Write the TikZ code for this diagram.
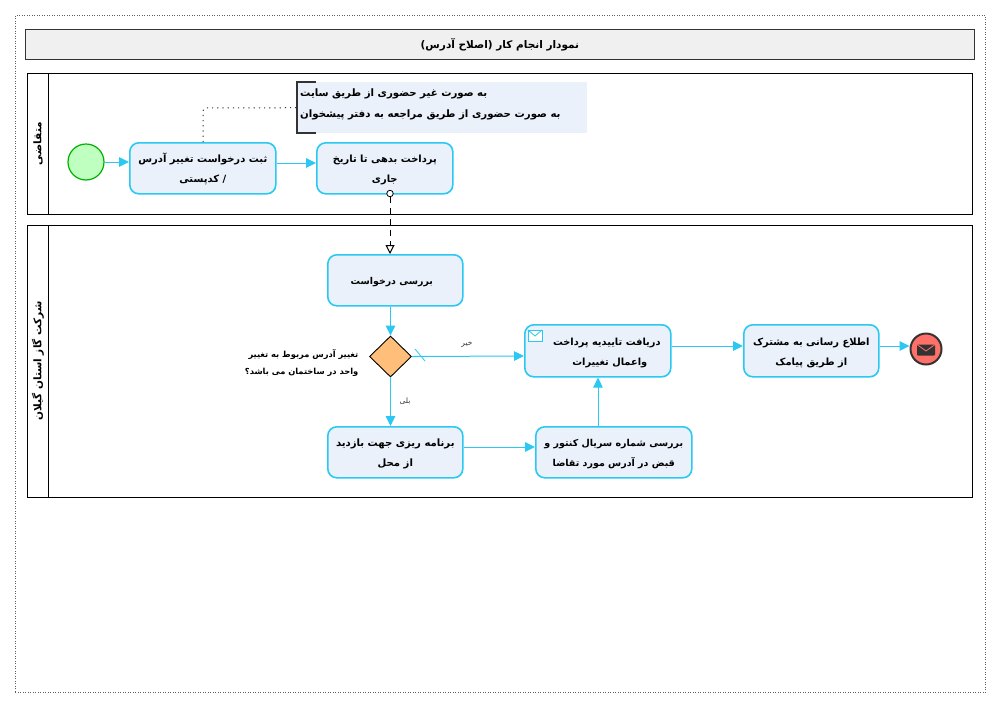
\documentclass[tikz,border=0pt]{standalone}
\usepackage{fontspec}
\usetikzlibrary{arrows.meta,shapes.geometric,calc}
\TeXXeTstate=1
\newfontfamily\arabicfont[Script=Arabic]{DejaVu Sans}
\newcommand{\rl}[1]{\beginR #1\endR}
\newcommand{\tl}{\rule{0pt}{11pt}}
\definecolor{flowc}{HTML}{2AC8F2}
\definecolor{taskfill}{HTML}{EAF1FA}
\definecolor{darkl}{HTML}{333333}
\definecolor{gwfill}{HTML}{FFBE7A}
\definecolor{endfill}{HTML}{FF7068}
\tikzset{
  x=1pt,y=-1pt,
  every node/.style={font=\arabicfont\bfseries\fontsize{9.9}{20}\selectfont,inner sep=0pt,text=black},
  taskbox/.style={draw=flowc,line width=1.6pt,fill=taskfill,rounded corners=9pt,align=center,anchor=north west},
  lane/.style={draw=black,line width=0.9pt,fill=white,anchor=north west},
  flow/.style={draw=flowc,line width=1pt,-{Triangle[length=10pt,width=9.5pt]}},
  lanelabel/.style={rotate=90,font=\arabicfont\bfseries\fontsize{10.5}{12}\selectfont},
  edgelabel/.style={font=\arabicfont\fontsize{7.5}{9}\selectfont,text=darkl},
}
\begin{document}
\begin{tikzpicture}
\useasboundingbox (0,0) rectangle (1000,707);
\fill[white] (0,0) rectangle (1000,707);
\node[draw=darkl!80!white,dotted,line width=0.5pt,minimum width=970pt,minimum height=677pt,anchor=north west] (page) at (15,15) {};
\node[draw=darkl,line width=0.8pt,fill=black!6,minimum width=949pt,minimum height=30pt,anchor=north west,font=\arabicfont\bfseries\fontsize{10.5}{12}\selectfont] (title) at (25,29) {\rl{نمودار انجام کار (اصلاح آدرس)}};
% lanes
\node[lane,minimum width=945pt,minimum height=141pt] (lane1) at (27,73) {};
\node[lane,minimum width=945pt,minimum height=272pt] (lane2) at (27,225) {};
\draw[line width=0.9pt] (48,73) -- (48,214) (48,225) -- (48,497);
\node[lanelabel] (l1t) at (38,143.5) {\rl{متقاضی}};
\node[lanelabel] (l2t) at (38,361) {\rl{شرکت گاز استان گیلان}};
% note
\node[fill=taskfill,minimum width=290pt,minimum height=51pt,anchor=north west] (note) at (297,82) {};
\draw[darkl,line width=1.1pt] (316,82) -- (297,82) -- (297,133) -- (316,133);
\node[anchor=west,align=left,font=\arabicfont\bfseries\fontsize{10.2}{21}\selectfont] (notet) at (300,104) {\rl{به صورت غیر حضوری از طریق سایت}\\\rl{به صورت حضوری از طریق مراجعه به دفتر پیشخوان}};
% events and tasks
\node[circle,draw=green!70!black,line width=1.2pt,fill=green!25,minimum size=36pt] (start) at (86,162) {};
\node[taskbox,minimum width=146pt,minimum height=51pt,font=\arabicfont\bfseries\fontsize{10}{20}\selectfont] (t1) at (129,142) {\tl\rl{ثبت درخواست تغییر آدرس}\\\rl{/ کدپستی}};
\node[taskbox,minimum width=136pt,minimum height=51pt] (t2) at (316,142) {\tl\rl{پرداخت بدهی تا تاریخ}\\\rl{جاری}};
\node[taskbox,minimum width=135pt,minimum height=51pt,font=\arabicfont\bfseries\fontsize{9.4}{20}\selectfont] (t3) at (327,254) {\tl\rl{بررسی درخواست}\hspace*{7pt}};
\node[diamond,draw=black,line width=0.9pt,fill=gwfill,minimum width=42pt,minimum height=41pt] (gw) at (390.5,356.5) {};
\node[anchor=east,align=right,font=\arabicfont\bfseries\fontsize{8.3}{17}\selectfont] (gwt) at (358.5,363) {\rl{تغییر آدرس مربوط به تغییر}\\\rl{واحد در ساختمان می باشد؟}};
\node[taskbox,minimum width=146pt,minimum height=52pt,font=\arabicfont\bfseries\fontsize{9.8}{20}\selectfont] (t4) at (524,324) {\tl\hspace*{18pt}\rl{دریافت تاییدیه پرداخت}\\\hspace*{24pt}\rl{واعمال تغییرات}};
\node[taskbox,minimum width=135pt,minimum height=51pt,font=\arabicfont\bfseries\fontsize{10.1}{20}\selectfont] (t5) at (327,426) {\tl\rl{برنامه ریزی جهت بازدید}\\\rl{از محل}};
\node[taskbox,minimum width=156pt,minimum height=51pt,font=\arabicfont\bfseries\fontsize{9.5}{20}\selectfont] (t6) at (535,426) {\tl\rl{بررسی شماره سریال کنتور و}\\\rl{قبض در آدرس مورد تقاضا}};
\node[taskbox,minimum width=135pt,minimum height=52pt] (t7) at (743,324) {\tl\rl{اطلاع رسانی به مشترک}\\\rl{از طریق پیامک}};
\node[circle,draw=darkl,line width=2pt,fill=endfill,minimum size=31pt] (end) at (926,349) {};
% envelope icons
\fill[darkl,rounded corners=0.8pt] (917,344.5) rectangle (935,355.5);
\draw[endfill,line width=0.8pt] (917,344.5) -- (926,351) -- (935,344.5);
\draw[flowc,line width=0.8pt,fill=white] (528,330) rectangle (542,341);
\draw[flowc,line width=0.8pt] (528,330) -- (535,336) -- (542,330);
% connectors
\coordinate (r1) at (0,163);
\draw[flow] (start.east) -- (t1.west |- start.east);
\draw[flow] (t1.east |- r1) -- (t2.west |- r1);
\draw[darkl,line width=1pt,dash pattern=on 1.2pt off 4pt,rounded corners=3pt] (t1.north -| 203,0) -- (203,108) -- (note.west);
\node[circle,draw=black,line width=0.8pt,fill=white,minimum size=6.5pt] (msgc) at (390,193.5) {};
\draw[black,dash pattern=on 6pt off 5pt,line width=1pt,-{Triangle[open,fill=white,length=9pt,width=9pt]}] (msgc.south) -- (t3.north -| msgc);
\draw[flow] (t3.south -| gw) -- (gw.north);
\coordinate (r2) at (0,356);
\draw[flow] (gw.east) -- (t4.west |- r2);
\draw[flowc,line width=0.8pt] (415,349) -- (425,361);
\node[edgelabel] (no) at (467,344) {\rl{خیر}};
\draw[flow] (gw.south) -- (t5.north -| gw);
\node[edgelabel] (yes) at (405,401) {\rl{بلی}};
\coordinate (r3) at (0,447);
\draw[flow] (t5.east |- r3) -- (t6.west |- r3);
\coordinate (c1) at (598,0);
\draw[flow] (t6.north -| c1) -- (t4.south -| c1);
\coordinate (r4) at (0,346);
\draw[flow] (t4.east |- r4) -- (t7.west |- r4);
\draw[flow] (t7.east |- r4) -- (end.west |- r4);
\end{tikzpicture}
\end{document}
